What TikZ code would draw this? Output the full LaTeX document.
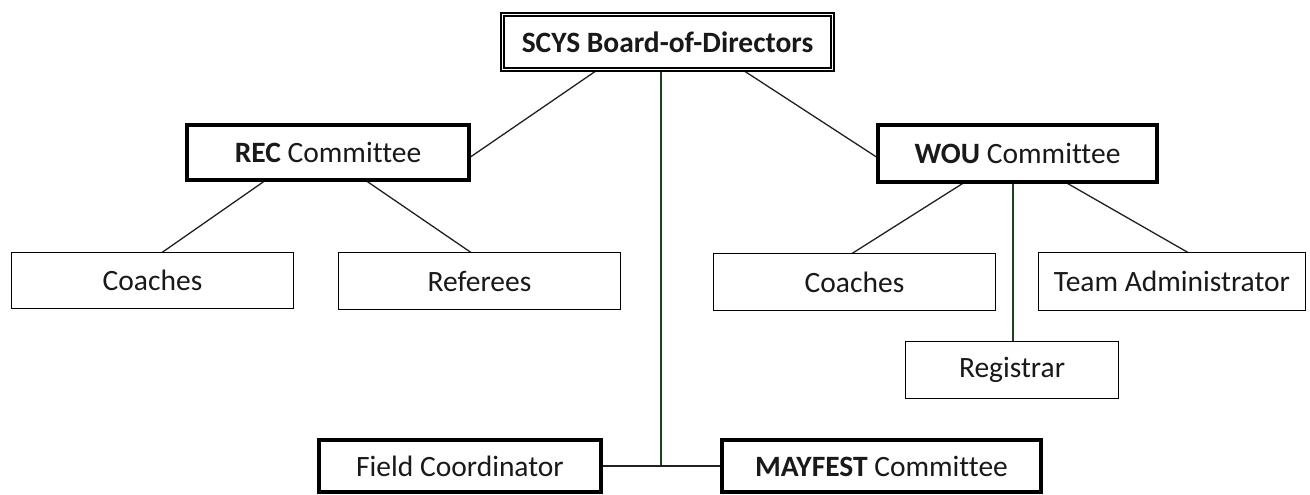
\documentclass[tikz,border=0pt]{standalone}
\usepackage{fontspec}
\setmainfont{Carlito}[Ligatures={NoCommon}]
\usetikzlibrary{backgrounds}
\definecolor{lnk}{rgb}{0.13,0.13,0.13}
\definecolor{glnk}{rgb}{0.12,0.25,0.12}
\tikzset{
  orgbox/.style={draw=black, line width=1.3pt, inner sep=0pt, outer sep=0pt, fill=white,
    font=\fontsize{29.5}{33}\selectfont, text=black!90},
  heavybox/.style={orgbox, line width=4pt},
  topbox/.style={orgbox, draw=black, double=white, line width=1.6pt, double distance=1.8pt},
  conn/.style={draw=lnk, line width=1.3pt},
  gconn/.style={draw=glnk, line width=1.2pt}
}
\begin{document}
\begin{tikzpicture}[x=1pt,y=-1pt]
\useasboundingbox (0,0) rectangle (1310,495);
% nodes
\node[topbox, minimum width=330pt, minimum height=55pt] (top) at (667.5,42) {\textbf{SCYS Board-of-Directors}};
\node[heavybox, minimum width=282pt, minimum height=55pt] (rec) at (328,152.5) {\textbf{REC} Committee};
\node[heavybox, minimum width=279pt, minimum height=57pt] (wou) at (1017.5,153.5) {\textbf{WOU} Committee};
\node[orgbox, minimum width=282pt, minimum height=56pt] (coachL) at (152.5,280.5) {Coaches};
\node[orgbox, minimum width=282pt, minimum height=57pt] (ref) at (479.5,281) {Referees};
\node[orgbox, minimum width=282pt, minimum height=57pt] (coachR) at (854.5,282) {Coaches};
\node[orgbox, minimum width=267pt, minimum height=58pt] (ta) at (1172,281.5) {Team Administrator};
\node[orgbox, minimum width=213pt, minimum height=57pt] (reg) at (1012,370) {Registrar};
\node[heavybox, minimum width=282pt, minimum height=52pt] (fc) at (460,466) {Field Coordinator};
\node[heavybox, minimum width=319pt, minimum height=52pt] (may) at (881.5,466) {\textbf{MAYFEST} Committee};
% connectors
\begin{scope}[on background layer]
\fill[white] (0,0) rectangle (1310,495);
\draw[conn] ([xshift=-69.5pt]top.south) -- ([yshift=-5.5pt]rec.east);
\draw[conn] ([xshift=74.5pt]top.south) -- ([yshift=-4.5pt]wou.west);
\draw[gconn] ([xshift=-6.5pt]top.south) -- ([xshift=-6.5pt]top.south |- fc.east);
\draw[conn] (fc.east) -- (may.west);
\draw[conn] ([xshift=-62pt]rec.south) -- ([xshift=9.5pt]coachL.north);
\draw[conn] ([xshift=37pt]rec.south) -- ([xshift=-8.5pt]ref.north);
\draw[conn] ([xshift=-52.5pt]wou.south) -- ([xshift=-2.5pt]coachR.north);
\draw[gconn] ([xshift=-4.5pt]wou.south) -- ([xshift=-4.5pt]wou.south |- reg.north);
\draw[conn] ([xshift=47.5pt]wou.south) -- ([xshift=16pt]ta.north);
\end{scope}
\end{tikzpicture}
\end{document}
